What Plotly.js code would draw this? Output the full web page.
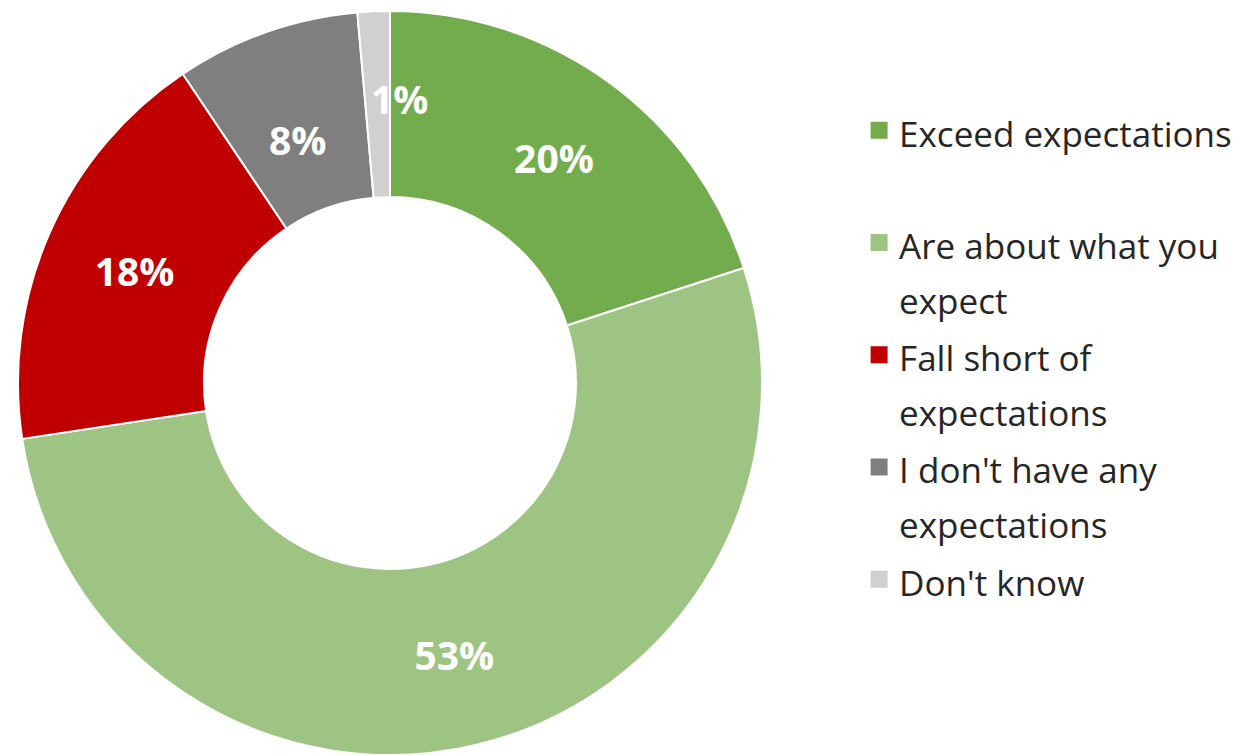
<!DOCTYPE html>
<html>
<head>
<meta charset="utf-8">
<script src="https://cdn.plot.ly/plotly-3.0.1.min.js"></script>
<style>html,body{margin:0;padding:0;background:#fff;}#chart{width:1256px;height:755px;}</style>
</head>
<body>
<div id="chart"></div>
<script>
var categories = ["Exceed expectations", "Are about what you expect", "Fall short of expectations", "I don't have any expectations", "Don't know"];
var legendLines = [["Exceed expectations", " "], ["Are about what you", "expect"], ["Fall short of", "expectations"], ["I don't have any", "expectations"], ["Don't know", " "]];
var shares = [20, 52.6, 18, 8, 1.4];
var pctLabels = ["20%", "53%", "18%", "8%", "1%"];
var colors = ["#72AC4D", "#9EC484", "#C00000", "#7F7F7F", "#D0D0D0"];

var W = 1256, H = 755;
var margin = {l: 0, r: 0, t: 11, b: 0};
var domX = [0, 0.621], domY = [0, 1];
var hole = 0.5;
var labelFont = {family: "Open Sans", size: 39, color: "#ffffff", weight: "bold"};
// small slices get their label as an annotation at the slice's mid radius
var smallLimit = 10;
var nudge = [[0, 0], [0, 0], [0, 0], [0, -20], [22, 6]];

var pieText = pctLabels.map(function(t, i) { return shares[i] >= smallLimit ? t : ""; });

var trace = {
  type: "pie",
  labels: legendLines.map(function(ls) {
    return ls.map(function(p) { return '<span style="font-size:35px">' + p + '</span>'; }).join("<br>");
  }),
  values: shares,
  text: pieText,
  textinfo: "text",
  textposition: "inside",
  insidetextorientation: "horizontal",
  hole: hole,
  sort: false,
  direction: "clockwise",
  rotation: 0,
  marker: {colors: colors, line: {color: "#ffffff", width: 2}},
  textfont: labelFont,
  insidetextfont: labelFont,
  domain: {x: domX, y: domY},
  hoverinfo: "label+percent"
};

// annotation positions derived from the data (cumulative share -> angle)
var plotW = W - margin.l - margin.r, plotH = H - margin.t - margin.b;
var rPx = Math.min((domX[1] - domX[0]) * plotW, (domY[1] - domY[0]) * plotH) / 2;
var rMid = rPx * (1 + hole) / 2;
var cxP = (domX[0] + domX[1]) / 2, cyP = (domY[0] + domY[1]) / 2;
var total = shares.reduce(function(a, b) { return a + b; }, 0);
var annotations = [];
var cum = 0;
shares.forEach(function(v, i) {
  var mid = (cum + v / 2) / total * 2 * Math.PI;
  cum += v;
  if (v >= smallLimit) return;
  annotations.push({
    xref: "paper", yref: "paper",
    x: cxP + rMid * Math.sin(mid) / plotW,
    y: cyP + rMid * Math.cos(mid) / plotH,
    xanchor: "center", yanchor: "middle",
    xshift: nudge[i][0], yshift: nudge[i][1],
    text: pctLabels[i], showarrow: false,
    font: labelFont
  });
});

var layout = {
  width: W, height: H,
  margin: margin,
  paper_bgcolor: "#ffffff",
  showlegend: true,
  uniformtext: {mode: "show", minsize: 39},
  annotations: annotations,
  legend: {
    x: 0.684, y: 0.885, xanchor: "left", yanchor: "top",
    valign: "top",
    font: {family: "Open Sans", size: 42, color: "#262626"},
    bgcolor: "rgba(0,0,0,0)"
  }
};

Plotly.newPlot("chart", [trace], layout, {displayModeBar: false}).then(function(gd) {
  // enlarge the legend colour squares to match the reference
  var paths = gd.querySelectorAll(".legend .legendpoints path");
  paths.forEach(function(p) { p.setAttribute("d", "M8.5,8.5H-8.5V-8.5H8.5Z"); p.style.strokeWidth = "0"; });
});
</script>
</body>
</html>
